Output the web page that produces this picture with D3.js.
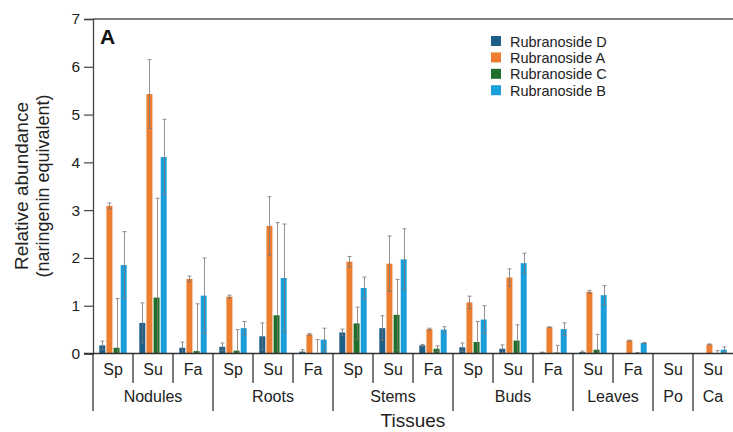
<!DOCTYPE html>
<html>
<head>
<meta charset="utf-8">
<script src="https://cdn.jsdelivr.net/npm/d3@7"></script>
<style>
  html, body { margin: 0; padding: 0; background: #fff; }
  svg { display: block; font-family: "Liberation Sans", Arial, sans-serif; }
</style>
</head>
<body>
<svg id="chart" width="733" height="432"></svg>
<script>
// Tissue groups and the sampling seasons within each
const groups = [
  { name: "Nodules", subs: ["Sp", "Su", "Fa"] },
  { name: "Roots",   subs: ["Sp", "Su", "Fa"] },
  { name: "Stems",   subs: ["Sp", "Su", "Fa"] },
  { name: "Buds",    subs: ["Sp", "Su", "Fa"] },
  { name: "Leaves",  subs: ["Su", "Fa"] },
  { name: "Po",      subs: ["Su"] },
  { name: "Ca",      subs: ["Su"] }
];

const seriesNames = ["Rubranoside D", "Rubranoside A", "Rubranoside C", "Rubranoside B"];
const seriesColors = ["#1d5f87", "#ed7d31", "#1f6f2a", "#1a9fdb"];

// Mean relative abundance per cell (cells in group order)
const valuesD = [0.17, 0.64, 0.12, 0.14, 0.36, 0.04, 0.44, 0.53, 0.17, 0.13, 0.10, 0.02, 0.03, 0.00, 0.00, 0.00];
const valuesA = [3.09, 5.43, 1.56, 1.19, 2.67, 0.40, 1.92, 1.88, 0.51, 1.07, 1.59, 0.55, 1.29, 0.27, 0.00, 0.19];
const valuesC = [0.12, 1.17, 0.05, 0.06, 0.80, 0.01, 0.63, 0.81, 0.10, 0.24, 0.27, 0.02, 0.08, 0.01, 0.00, 0.01];
const valuesB = [1.85, 4.11, 1.21, 0.53, 1.58, 0.29, 1.37, 1.97, 0.50, 0.71, 1.89, 0.51, 1.22, 0.22, 0.00, 0.08];

// Error bar half-widths
const errD = [0.09, 0.42, 0.12, 0.08, 0.28, 0.04, 0.07, 0.26, 0.02, 0.09, 0.08, 0.01, 0.02, 0.00, 0.00, 0.00];
const errA = [0.06, 0.72, 0.06, 0.03, 0.61, 0.02, 0.11, 0.58, 0.02, 0.13, 0.18, 0.01, 0.03, 0.01, 0.00, 0.01];
const errC = [1.03, 2.08, 0.99, 0.44, 1.94, 0.28, 0.34, 0.74, 0.06, 0.43, 0.33, 0.15, 0.32, 0.01, 0.00, 0.05];
const errB = [0.70, 0.79, 0.79, 0.14, 1.13, 0.24, 0.23, 0.64, 0.06, 0.29, 0.21, 0.13, 0.20, 0.01, 0.00, 0.06];

const yTicks = [0, 1, 2, 3, 4, 5, 6, 7];

const seriesValues = [valuesD, valuesA, valuesC, valuesB];
const seriesErrs = [errD, errA, errC, errB];

// Flatten groups into cells
const cells = [];
groups.forEach((g, gi) => g.subs.forEach(s => cells.push({ group: g.name, gi, sub: s, idx: cells.length })));

const svg = d3.select("#chart");
const plotLeft = 93, plotRight = 733, plotTop = 19, base = 353.5;

const x = d3.scaleBand().domain(cells.map(c => c.idx)).range([plotLeft, plotRight]).paddingInner(0).paddingOuter(0);
const xs = d3.scaleBand().domain(seriesNames).range([6.3, x.bandwidth() - 6.3]).paddingInner(0.16);
const y = d3.scaleLinear().domain([0, 7]).range([base, plotTop]);

const barData = [];
cells.forEach((c, ci) => {
  seriesNames.forEach((s, si) => {
    barData.push({ cell: ci, s, si, v: seriesValues[si][ci], e: seriesErrs[si][ci] });
  });
});

const plot = svg.append("g");

plot.selectAll("rect.bar").data(barData).join("rect")
  .attr("class", "bar")
  .attr("x", d => x(d.cell) + xs(d.s))
  .attr("width", xs.bandwidth())
  .attr("y", d => y(d.v))
  .attr("height", d => base - y(d.v))
  .attr("fill", d => seriesColors[d.si]);

// Error bars with caps
const errG = plot.append("g").attr("stroke", "#777").attr("stroke-width", 1).attr("stroke-opacity", 0.8);
barData.filter(d => d.e > 0).forEach(d => {
  const cx = Math.round(x(d.cell) + xs(d.s) + xs.bandwidth() / 2) + 0.5;
  const hi = y(d.v + d.e);
  const lo = y(Math.max(0, d.v - d.e));
  errG.append("line").attr("x1", cx).attr("x2", cx).attr("y1", hi).attr("y2", lo);
  errG.append("line").attr("x1", cx - 2).attr("x2", cx + 2).attr("y1", hi).attr("y2", hi);
  if (d.v - d.e > 0) {
    errG.append("line").attr("x1", cx - 2).attr("x2", cx + 2).attr("y1", lo).attr("y2", lo);
  }
});

// Y axis
const yAxis = d3.axisLeft(y).tickValues(yTicks).tickFormat(d3.format("d")).tickSize(9).tickPadding(4);
const yg = svg.append("g").attr("transform", `translate(${plotLeft},0)`).call(yAxis);
yg.select(".domain").attr("stroke", "#444").attr("stroke-width", 1.3);
yg.selectAll(".tick line").attr("stroke", "#444").attr("stroke-width", 1.2);
yg.selectAll(".tick text").attr("font-size", 15.5).attr("fill", "#222")
  .attr("font-family", "Liberation Sans, Arial, sans-serif");

// Top border
svg.append("line").attr("x1", plotLeft).attr("x2", plotRight).attr("y1", plotTop).attr("y2", plotTop)
  .attr("stroke", "#555").attr("stroke-width", 1.5);

// Baseline
svg.append("line").attr("x1", plotLeft - 9).attr("x2", plotRight).attr("y1", base).attr("y2", base)
  .attr("stroke", "#333").attr("stroke-width", 1.3);

// Category separators and labels
const sep = svg.append("g").attr("stroke", "#333").attr("stroke-width", 1.3);
cells.forEach((c, ci) => {
  const x0 = x(ci);
  const isGroupStart = ci === 0 || cells[ci - 1].gi !== c.gi;
  sep.append("line").attr("x1", x0).attr("x2", x0).attr("y1", base).attr("y2", isGroupStart ? 411 : 383);
  svg.append("text").attr("x", x0 + x.bandwidth() / 2).attr("y", 375)
    .attr("text-anchor", "middle").attr("font-size", 16).attr("fill", "#222").text(c.sub);
});
groups.forEach((g, gi) => {
  const gc = cells.filter(c => c.gi === gi);
  const x0 = x(gc[0].idx), x1 = x(gc[gc.length - 1].idx) + x.bandwidth();
  svg.append("text").attr("x", (x0 + x1) / 2).attr("y", 402)
    .attr("text-anchor", "middle").attr("font-size", 16).attr("fill", "#222").text(g.name);
});

// Axis titles
svg.append("text").attr("x", 413).attr("y", 427).attr("text-anchor", "middle")
  .attr("font-size", 19).attr("fill", "#222").text("Tissues");
svg.append("text").attr("transform", "translate(28,186) rotate(-90)").attr("text-anchor", "middle")
  .attr("font-size", 19).attr("fill", "#222").text("Relative abundance");
svg.append("text").attr("transform", "translate(49,186) rotate(-90)").attr("text-anchor", "middle")
  .attr("font-size", 18).attr("fill", "#222").text("(naringenin equivalent)");

// Panel letter
svg.append("text").attr("x", 100).attr("y", 44).attr("font-size", 21).attr("font-weight", "bold")
  .attr("fill", "#111").text("A");

// Legend
const lg = svg.append("g").attr("transform", "translate(491,34)");
seriesNames.forEach((s, i) => {
  const row = lg.append("g").attr("transform", `translate(0,${i * 16.4})`);
  row.append("rect").attr("width", 10).attr("height", 10).attr("y", 2).attr("fill", seriesColors[i]);
  row.append("text").attr("x", 19).attr("y", 12.5).attr("font-size", 14.5).attr("fill", "#222").text(s);
});
</script>
</body>
</html>
